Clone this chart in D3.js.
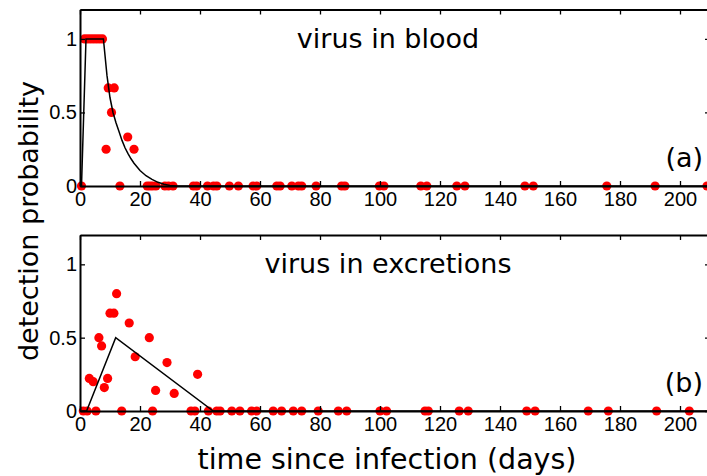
<!DOCTYPE html>
<html>
<head>
<meta charset="utf-8">
<script src="https://cdn.jsdelivr.net/npm/d3@7"></script>
<style>
  html, body { margin: 0; padding: 0; background: #fff; }
  svg { display: block; }
  .tick text { font-family: "Liberation Sans", Arial, sans-serif; font-size: 20px; fill: #000; }
</style>
</head>
<body>
<svg id="chart" width="707" height="476"></svg>
<script>
// Detection probability over time since infection: observed proportions (dots) and fitted curves.
const xTicks = [0, 20, 40, 60, 80, 100, 120, 140, 160, 180, 200];
const yTicks = [0, 0.5, 1];

// (a) virus in blood: observed
const bloodDays = [0.5, 1.5, 2.5, 3.5, 4.5, 5.5, 6.5, 7.5, 8.7, 9.4, 10.5, 11.4, 13.3, 15.9, 18,
  22.4, 23.3, 24.2, 25.3, 28.3, 29.5, 31, 37.8, 38.9, 42.5, 44.5, 45.6, 49.8, 52.8, 57.7, 58.9,
  65.6, 66.7, 70.6, 72.8, 73.9, 78.7, 87.2, 88.3, 99.8, 101.3, 113.6, 115.6, 125.6, 128.3,
  148.3, 151.1, 175.6, 191.7, 209];
const bloodProb = [0, 1, 1, 1, 1, 1, 1, 1, 0.25, 0.667, 0.5, 0.667, 0, 0.333, 0.25,
  0, 0, 0, 0, 0, 0, 0, 0, 0, 0, 0, 0, 0, 0, 0, 0,
  0, 0, 0, 0, 0, 0, 0, 0, 0, 0, 0, 0, 0, 0,
  0, 0, 0, 0, 0];
// (a) fitted curve
const bloodFitDays = [0.5, 2, 7.8, 9, 10, 11, 12, 13, 14, 15, 16, 17, 18, 20, 22, 24, 26, 28, 30, 32, 210];
const bloodFitProb = [0, 1, 1, 0.75, 0.6, 0.5, 0.43, 0.37, 0.31, 0.26, 0.22, 0.185, 0.155, 0.105, 0.07, 0.045, 0.025, 0.012, 0.004, 0, 0];

// (b) virus in excretions: observed
const excDays = [1.1, 2.4, 5.3, 3.1, 4.4, 6.3, 7.2, 8.1, 9.2, 10, 11.3, 12.2, 13.9, 16.4, 18.4,
  23.1, 24.2, 25.2, 29, 31.4, 37, 38.3, 39.2,
  42.8, 45.6, 46.7, 50.6, 53.3, 57.2, 58.9, 64.4, 67.2, 71.1, 73.9, 79.4, 86.1, 88.9,
  100, 102.2, 115, 116.1, 126.4, 129.4, 148.9, 151.7, 169.4, 176.1, 192.2, 203.1];
const excProb = [0, 0, 0, 0.222, 0.2, 0.5, 0.444, 0.16, 0.222, 0.667, 0.667, 0.8, 0, 0.6, 0.37,
  0.5, 0, 0.14, 0.33, 0.12, 0, 0, 0.25,
  0, 0, 0, 0, 0, 0, 0, 0, 0, 0, 0, 0, 0, 0,
  0, 0, 0, 0, 0, 0, 0, 0, 0, 0, 0, 0];
// (b) fitted curve
const excFitDays = [0.5, 2.2, 11.9, 44.4, 210];
const excFitProb = [0, 0, 0.5, 0, 0];

const svg = d3.select("#chart");
const left = 80, right = 710;
const x = d3.scaleLinear().domain([0, 210]).range([left, right]);
const labelFont = "'DejaVu Sans', Verdana, sans-serif";

const panels = [
  { top: 9.5, bottom: 186, title: "virus in blood", tag: "(a)",
    days: bloodDays, prob: bloodProb, fitDays: bloodFitDays, fitProb: bloodFitProb },
  { top: 235, bottom: 411, title: "virus in excretions", tag: "(b)",
    days: excDays, prob: excProb, fitDays: excFitDays, fitProb: excFitProb }
];

panels.forEach((p, i) => {
  const y = d3.scaleLinear().domain([0, 1.2]).range([p.bottom, p.top]);
  const g = svg.append("g");

  const clipId = "clip" + i;
  svg.append("clipPath").attr("id", clipId)
    .append("rect").attr("x", left - 10).attr("y", p.top - 10)
    .attr("width", right - left + 20).attr("height", p.bottom - p.top + 20);

  // observed proportions
  g.append("g").attr("clip-path", `url(#${clipId})`)
    .selectAll("circle").data(p.days.map((d, k) => [d, p.prob[k]]))
    .join("circle")
    .attr("cx", d => x(d[0])).attr("cy", d => y(d[1]))
    .attr("r", 4.6).attr("fill", "#ff0000");

  // fitted curve
  g.append("path")
    .datum(p.fitDays.map((d, k) => [d, p.fitProb[k]]))
    .attr("fill", "none").attr("stroke", "#000").attr("stroke-width", 1.5)
    .attr("d", d3.line().x(d => x(d[0])).y(d => y(d[1])));

  // axes: ticks pointing inward on every side
  const styleAxis = sel => {
    sel.select(".domain").attr("stroke-width", 2);
    sel.selectAll(".tick line").attr("stroke-width", 1.3);
  };
  g.append("g").attr("transform", `translate(0,${p.bottom})`)
    .call(d3.axisBottom(x).tickValues(xTicks).tickFormat(d3.format("d"))
      .tickSizeInner(-5).tickSizeOuter(0).tickPadding(6))
    .call(styleAxis);
  g.append("g").attr("transform", `translate(0,${p.top})`)
    .call(d3.axisTop(x).tickValues(xTicks).tickFormat("")
      .tickSizeInner(-5).tickSizeOuter(0))
    .call(styleAxis);
  g.append("g").attr("transform", `translate(${left},0)`)
    .call(d3.axisLeft(y).tickValues(yTicks).tickFormat(d => String(d))
      .tickSizeInner(-5).tickSizeOuter(0).tickPadding(3))
    .call(styleAxis);
  g.append("g").attr("transform", `translate(${right},0)`)
    .call(d3.axisRight(y).tickValues(yTicks).tickFormat("")
      .tickSizeInner(-5).tickSizeOuter(0))
    .call(styleAxis);

  g.append("text").attr("x", 388).attr("y", p.top + 38)
    .attr("text-anchor", "middle")
    .style("font-family", labelFont).style("font-size", "27px")
    .text(p.title);
  g.append("text").attr("x", 703).attr("y", p.bottom - 19)
    .attr("text-anchor", "end")
    .style("font-family", labelFont).style("font-size", "27px")
    .text(p.tag);
});

svg.append("text").attr("x", 387).attr("y", 469)
  .attr("text-anchor", "middle")
  .style("font-family", labelFont).style("font-size", "28.5px")
  .text("time since infection (days)");

svg.append("text").attr("transform", "translate(38,221) rotate(-90)")
  .attr("text-anchor", "middle")
  .style("font-family", labelFont).style("font-size", "27px")
  .text("detection probability");
</script>
</body>
</html>
